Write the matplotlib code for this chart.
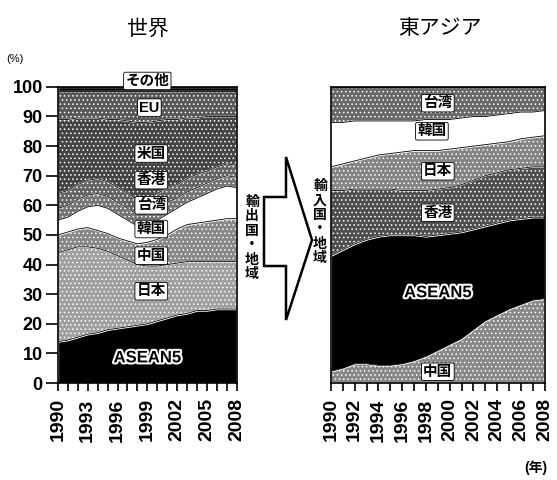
import numpy as np
import matplotlib
matplotlib.use('Agg')
import matplotlib.pyplot as plt
from matplotlib.patches import Polygon
import matplotlib.patheffects as pe

plt.rcParams['font.family'] = ['Liberation Sans', 'Noto Sans CJK JP']
plt.rcParams['hatch.linewidth'] = 0.6

years = list(range(1990, 2009))

# 世界 (exporters), share %, bottom to top
world_names = ['ASEAN5', '日本', '中国', '韓国', '台湾', '香港', '米国', 'EU', 'その他']
w_asean = [14, 14.5, 15.5, 16.5, 17, 18, 18.5, 19, 19.5, 20, 21, 22, 23, 23.5, 24.5, 24.5, 25, 25, 25]
w_japan = [30, 30.5, 30.5, 29.5, 28.5, 26.5, 24.5, 22.5, 20.5, 19.5, 18.5, 18, 17.5, 17.5, 16.5, 16.5, 16, 16, 16]
w_china = [6, 6, 6, 6.5, 6, 6, 6, 6.5, 7, 8, 9, 10, 11.5, 12.5, 13, 13.5, 14, 14.5, 14.5]
w_korea = [5, 5, 6, 7, 8.5, 8.5, 8, 7, 6, 5.5, 6.5, 7, 7, 7.5, 8.5, 9.5, 10.5, 11, 10.5]
w_taiwan = [4, 4, 4, 4, 4, 4, 4, 4, 4, 4, 4, 4, 3.5, 3.5, 3.5, 3.5, 3.5, 3.5, 3.5]
w_hk = [5, 5, 5, 5, 5, 5, 5, 5, 5, 5, 5, 5, 4.5, 4.5, 4.5, 4, 4, 4, 4]
w_us = [25, 24, 22.5, 21, 20.5, 21, 23, 24.5, 26, 26, 24.5, 23, 22, 20.5, 19, 18.5, 17, 16, 16.5]
w_eu = [9.5, 9.5, 9, 9, 9, 9.5, 9.5, 10, 10.5, 10.5, 10, 9.5, 9.5, 9, 9, 8.5, 8.5, 8.5, 8.5]
w_other = [1.5] * 19

# 東アジア (importers), share %, bottom to top
ea_names = ['中国', 'ASEAN5', '香港', '日本', '韓国', '台湾']
e_china = [4, 5, 6.5, 6.5, 6, 6, 6.5, 7.5, 9, 11, 13, 15, 18, 21, 23, 25, 26.5, 28, 28.5]
e_asean = [39, 40, 40.5, 42, 43.5, 44, 43.5, 42.5, 40.5, 39, 37.5, 36, 34, 32, 31, 30, 29, 28, 27.5]
e_hk = [22, 20, 18.5, 17, 16, 15.5, 15, 15, 15.5, 15.5, 15.5, 16, 16.5, 17, 17, 17, 17, 17, 17]
e_japan = [8, 9, 9.5, 10.5, 11.5, 12, 13, 13.5, 13.5, 13, 13, 12.5, 11.5, 10.5, 10, 9.5, 10, 10, 10.5]
e_korea = [15, 14, 13.5, 12.5, 11.5, 11, 10.5, 10, 10.5, 10.5, 10, 10, 10, 9.5, 9.5, 9.5, 9, 8.5, 8.5]
e_taiwan = [12, 12, 11.5, 11.5, 11.5, 11.5, 11.5, 11.5, 11, 11, 11, 10.5, 10, 10, 9.5, 9, 8.5, 8.5, 8]

world = [w_asean, w_japan, w_china, w_korea, w_taiwan, w_hk, w_us, w_eu, w_other]
world_colors = ['black', '#a0a0a0', '#888888', 'white', '#747474', '#636363', '#444444', '#585858', 'black']
world_labels = {'その他': (1999, 102), 'EU': (1999.2, 93), '米国': (1999.4, 77.5), '香港': (1999.4, 68.5),
                '台湾': (1999.4, 60), '韓国': (1999.4, 52), '中国': (1999.4, 43), '日本': (1999.4, 31)}

east = [e_china, e_asean, e_hk, e_japan, e_korea, e_taiwan]
east_colors = ['#888888', 'black', '#4e4e4e', '#848484', 'white', '#686868']
east_labels = {'台湾': (1999, 94.5), '韓国': (1998.5, 85), '日本': (1999, 71.5), '香港': (1999, 57.5), '中国': (1999, 3.8)}

fig = plt.figure(figsize=(5.57, 4.8), dpi=100)
ax1 = fig.add_axes([0.104, 0.202, 0.321, 0.617])
ax2 = fig.add_axes([0.594, 0.202, 0.384, 0.617])


def draw_stack(ax, series, colors):
    bottom = np.zeros(len(years))
    for s, c in zip(series, colors):
        top = bottom + np.array(s)
        if c in ('black', 'white'):
            ax.fill_between(years, bottom, top, facecolor=c, edgecolor='white', linewidth=1.0)
        else:
            ax.fill_between(years, bottom, top, facecolor=c, edgecolor='white', linewidth=1.0, hatch='....')
        ax.plot(years, top, color='black', linewidth=0.6)
        bottom = top


def put_label(ax, txt, xy, size=10.5):
    ax.text(xy[0], xy[1], txt, ha='center', va='center', fontsize=size, fontweight='bold',
            bbox=dict(boxstyle='round,pad=0.12', facecolor='white', edgecolor='black', linewidth=0.6),
            clip_on=False, zorder=5)


draw_stack(ax1, world, world_colors)
draw_stack(ax2, east, east_colors)

for name, xy in world_labels.items():
    put_label(ax1, name, xy)
for name, xy in east_labels.items():
    put_label(ax2, name, xy)

for ax, xy in [(ax1, (1999, 8.5)), (ax2, (1999, 30.5))]:
    ax.text(xy[0], xy[1], 'ASEAN5', ha='center', va='center', fontsize=12, fontweight='bold', color='black',
            path_effects=[pe.withStroke(linewidth=3, foreground='white')], zorder=5)

for ax in (ax1, ax2):
    ax.set_xlim(1990, 2008)
    ax.set_ylim(0, 100)
    for sp in ax.spines.values():
        sp.set_linewidth(1.2)
    ax.set_xticks(years, minor=True)
    ax.tick_params(axis='x', which='both', direction='out', length=6, width=1.2, pad=5)
    ax.tick_params(axis='x', labelsize=14, labelrotation=90)

ax1.set_xticks(range(1990, 2009, 3))
ax1.set_xticklabels([str(y) for y in range(1990, 2009, 3)], fontweight='bold')
ax2.set_xticks(range(1990, 2009, 2))
ax2.set_xticklabels([str(y) for y in range(1990, 2009, 2)], fontweight='bold')

ax1.set_yticks(range(0, 101, 10))
ax1.set_yticklabels([str(v) for v in range(0, 101, 10)], fontweight='bold')
ax1.tick_params(axis='y', direction='out', length=9, width=1.2, labelsize=13, pad=2)
ax2.set_yticks([])

fig.text(0.266, 0.94, '世界', ha='center', va='center', fontsize=15)
fig.text(0.79, 0.94, '東アジア', ha='center', va='center', fontsize=15)
fig.text(0.027, 0.878, '(%)', ha='center', va='center', fontsize=8)
fig.text(0.962, 0.025, '(年)', ha='center', va='center', fontsize=10, fontweight='bold')

# arrow between the panels (pixel coords -> figure fraction)
arrow_px = [(264, 197), (286, 197), (286, 157), (312, 240), (286, 320), (286, 266), (264, 266)]
arrow = Polygon([(x / 557, 1 - y / 480) for x, y in arrow_px], closed=True, transform=fig.transFigure,
                facecolor='white', edgecolor='black', linewidth=1.8)
fig.add_artist(arrow)

fig.text(252 / 557, 1 - 238 / 480, '\n'.join('輸出国・地域'), ha='center', va='center', fontsize=10,
         fontweight='bold', linespacing=1.05)
fig.text(320 / 557, 1 - 222 / 480, '\n'.join('輸入国・地域'), ha='center', va='center', fontsize=10,
         fontweight='bold', linespacing=1.05)

fig.savefig('out.png', dpi=100)
